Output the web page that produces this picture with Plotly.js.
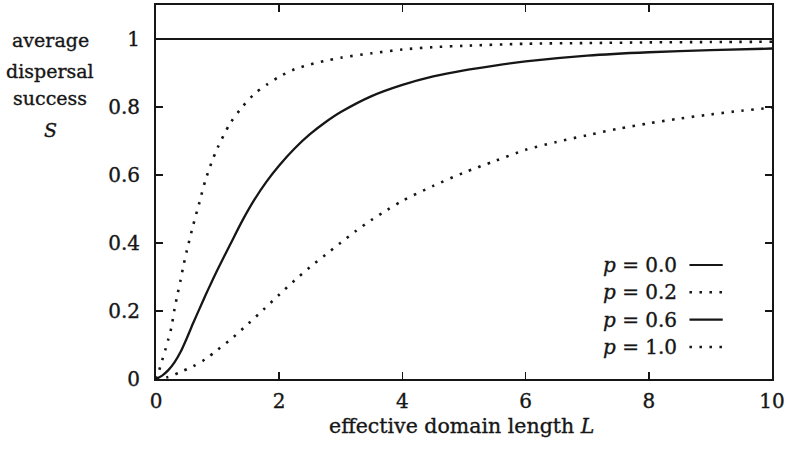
<!DOCTYPE html>
<html>
<head>
<meta charset="utf-8">
<script src="https://cdn.plot.ly/plotly-3.0.1.min.js"></script>
<style>
  html, body { margin: 0; padding: 0; background: #ffffff; }
  #chart { width: 787px; height: 450px; }
  /* slightly heavier lettering, closer to a printed figure */
  #chart text { stroke: #161616; stroke-width: 0.35px; }
</style>
</head>
<body>
<div id="chart"></div>
<script>
// Average dispersal success S against effective domain length L, for four values of p.

// p = 0.0 : success is complete for every domain length
const L_p00 = [0, 10];
const S_p00 = [1, 1];

// p = 0.2
const L_p02 = [0, 0.05, 0.1, 0.15, 0.2, 0.25, 0.3, 0.35, 0.4, 0.45, 0.5, 0.6, 0.7, 0.8, 0.9, 1.0,
               1.2, 1.4, 1.6, 1.8, 2.0, 2.25, 2.5, 2.75, 3.0, 3.5, 4.0, 4.5, 5.0, 6.0, 7.0, 8.0, 9.0, 10.0];
const S_p02 = [0, 0.025, 0.055, 0.085, 0.117, 0.152, 0.205, 0.25, 0.292, 0.337, 0.377, 0.45, 0.516, 0.583, 0.636, 0.68,
               0.751, 0.80, 0.839, 0.866, 0.889, 0.911, 0.925, 0.936, 0.945, 0.958, 0.969, 0.976, 0.980, 0.986, 0.988, 0.990, 0.991, 0.992];

// p = 0.6
const L_p06 = [0, 0.1, 0.2, 0.3, 0.4, 0.5, 0.6, 0.7, 0.8, 0.9, 1.0, 1.2, 1.4, 1.6, 1.8, 2.0,
               2.25, 2.5, 2.75, 3.0, 3.5, 4.0, 4.5, 5.0, 5.5, 6.0, 7.0, 8.0, 9.0, 10.0];
const S_p06 = [0, 0.01, 0.026, 0.049, 0.08, 0.12, 0.163, 0.204, 0.245, 0.284, 0.322, 0.394, 0.465, 0.528, 0.582, 0.628,
               0.678, 0.72, 0.755, 0.785, 0.832, 0.865, 0.89, 0.908, 0.922, 0.934, 0.951, 0.961, 0.967, 0.972];

// p = 1.0
const L_p10 = [0, 0.2, 0.4, 0.6, 0.8, 1.0, 1.25, 1.5, 1.75, 2.0, 2.25, 2.5, 2.75, 3.0, 3.25, 3.5, 3.75,
               4.0, 4.5, 5.0, 5.5, 6.0, 6.5, 7.0, 7.5, 8.0, 8.5, 9.0, 9.5, 10.0];
const S_p10 = [0, 0.006, 0.021, 0.037, 0.058, 0.086, 0.122, 0.163, 0.205, 0.248, 0.29, 0.329, 0.365, 0.401, 0.436, 0.468, 0.497,
               0.524, 0.568, 0.607, 0.641, 0.674, 0.697, 0.717, 0.736, 0.752, 0.766, 0.778, 0.789, 0.798];

// Legend entries, in the order they are listed
const legendLabels = ['<i>p</i> = 0.0', '<i>p</i> = 0.2', '<i>p</i> = 0.6', '<i>p</i> = 1.0'];

// Axis ticks
const xTicks = [0, 2, 4, 6, 8, 10];
const yTicks = [0, 0.2, 0.4, 0.6, 0.8, 1];

// Axis captions; the y caption is stacked one word per line
const yCaption = ['average', 'dispersal', 'success', '<i>S</i>'];
const xCaption = 'effective domain length <i>L</i>';

const INK = '#161616';
const SERIF = 'DejaVu Serif, Liberation Serif, serif';
const SOLID = 'solid';
const DOTS = '2.5px,7.5px';

const styles = [
  { dash: SOLID, width: 2.0 },
  { dash: DOTS,  width: 2.6 },
  { dash: SOLID, width: 2.3 },
  { dash: DOTS,  width: 2.6 }
];
const xs = [L_p00, L_p02, L_p06, L_p10];
const ys = [S_p00, S_p02, S_p06, S_p10];

const traces = xs.map((x, i) => ({
  type: 'scatter',
  mode: 'lines',
  x: x,
  y: ys[i],
  name: legendLabels[i],
  line: { color: INK, width: styles[i].width, dash: styles[i].dash, shape: 'spline', smoothing: 0.8 },
  hoverinfo: 'skip',
  showlegend: false
}));

// Legend drawn by hand: label first, line sample after it
const legendTextX = 0.722;
const sampleX0 = 0.866;
const sampleX1 = 0.920;
const legendY0 = 0.305;
const legendStep = 0.0731;

const annotations = [];
const shapes = [];
legendLabels.forEach((lab, i) => {
  const yy = legendY0 - i * legendStep;
  annotations.push({
    xref: 'paper', yref: 'paper', x: legendTextX, y: yy,
    xanchor: 'left', yanchor: 'middle', showarrow: false,
    text: lab, font: { family: SERIF, size: 20, color: INK }
  });
  shapes.push({
    type: 'line', xref: 'paper', yref: 'paper',
    x0: sampleX0, x1: sampleX1, y0: yy, y1: yy,
    line: { color: INK, width: styles[i].width, dash: styles[i].dash }
  });
});

// Stacked y caption
const yCaptionY = [0.906, 0.8235, 0.7513, 0.6658];
yCaption.forEach((word, i) => {
  annotations.push({
    xref: 'paper', yref: 'paper', x: -0.172, y: yCaptionY[i],
    xanchor: 'center', yanchor: 'middle', showarrow: false,
    text: word, font: { family: SERIF, size: 19, color: INK }
  });
});

// x caption
annotations.push({
  xref: 'paper', yref: 'paper', x: 0.496, y: -0.126,
  xanchor: 'center', yanchor: 'middle', showarrow: false,
  text: xCaption, font: { family: SERIF, size: 20.5, color: INK }
});

const axisCommon = {
  showline: true,
  linecolor: INK,
  linewidth: 2,
  mirror: 'ticks',
  ticks: 'inside',
  ticklen: 7,
  tickwidth: 1.6,
  tickcolor: INK,
  showgrid: false,
  zeroline: false,
  tickfont: { family: SERIF, size: 20, color: INK },
  ticklabeloverflow: 'allow',
  fixedrange: true
};

const layout = {
  width: 787,
  height: 450,
  margin: { l: 156, r: 15, t: 5, b: 71, pad: 0 },
  paper_bgcolor: '#ffffff',
  plot_bgcolor: '#ffffff',
  showlegend: false,
  xaxis: Object.assign({}, axisCommon, {
    range: [0, 10],
    tickvals: xTicks,
    ticktext: xTicks.map(String),
    ticklabelstandoff: 3
  }),
  yaxis: Object.assign({}, axisCommon, {
    range: [0, 1.1],
    tickvals: yTicks,
    ticktext: yTicks.map(String),
    ticklabelstandoff: 10
  }),
  annotations: annotations,
  shapes: shapes
};

Plotly.newPlot('chart', traces, layout, { displayModeBar: false, staticPlot: true });
</script>
</body>
</html>
